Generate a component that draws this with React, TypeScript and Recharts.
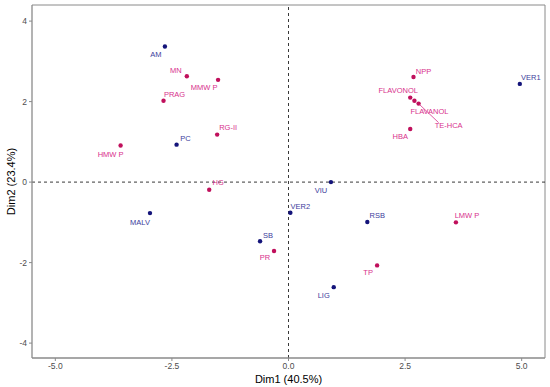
import React from "react";
import {
  ScatterChart,
  Scatter,
  XAxis,
  YAxis,
  ReferenceLine,
  LabelList,
} from "recharts";

// Observations (blue)
const obsNames = ["AM", "PC", "MALV", "SB", "VIU", "VER2", "RSB", "LIG", "VER1"];
const obsDim1 = [-2.65, -2.4, -2.97, -0.61, 0.91, 0.04, 1.69, 0.97, 4.96];
const obsDim2 = [3.37, 0.93, -0.77, -1.47, 0.0, -0.76, -0.99, -2.61, 2.44];

// Variables (magenta)
const varNames = [
  "MN", "MMW P", "PRAG", "RG-II", "HMW P", "HG", "PR",
  "NPP", "FLAVONOL", "FLAVANOL", "TE-HCA", "HBA", "LMW P", "TP",
];
const varDim1 = [-2.18, -1.51, -2.68, -1.53, -3.6, -1.7, -0.31, 2.68, 2.61, 2.7, 2.79, 2.61, 3.59, 1.9];
const varDim2 = [2.63, 2.54, 2.02, 1.18, 0.91, -0.19, -1.71, 2.61, 2.1, 2.02, 1.95, 1.32, -1.0, -2.07];

const xTicks = [-5, -2.5, 0, 2.5, 5];
const yTicks = [-4, -2, 0, 2, 4];

// label nudges (px) for repelled labels: [dx, dy, drawSegment]
const labelNudge: Record<string, [number, number, boolean?]> = {
  AM: [-9, 8],
  PC: [9, -6],
  MALV: [-10, 9],
  SB: [8, -6],
  VIU: [-10, 8],
  VER2: [10, -6],
  RSB: [10, -6],
  LIG: [-10, 8],
  VER1: [11, -6],
  MN: [-11, -6],
  "MMW P": [-14, 8],
  PRAG: [11, -6],
  "RG-II": [11, -7],
  "HMW P": [-10, 9],
  HG: [9, -7],
  PR: [-9, 7],
  NPP: [10, -6],
  FLAVONOL: [-12, -7],
  FLAVANOL: [15, 11],
  "TE-HCA": [30, 22, true],
  HBA: [-10, 8],
  "LMW P": [11, -7],
  TP: [-9, 7],
};

const obsData = obsNames.map((n, i) => ({ name: n, x: obsDim1[i], y: obsDim2[i] }));
const varData = varNames.map((n, i) => ({ name: n, x: varDim1[i], y: varDim2[i] }));

const BLUE_PT = "#14147a";
const BLUE_LB = "#3c3c9c";
const PINK_PT = "#c0105c";
const PINK_LB = "#d8308c";
const FONT = "'Liberation Sans', Arial, sans-serif";

const makeLabel = (color: string) => (props: any) => {
  const { x, y, width, height, value } = props;
  const cx = x + (width || 0) / 2;
  const cy = y + (height || 0) / 2;
  const nudge = labelNudge[value] || [8, -6];
  const lx = cx + nudge[0];
  const ly = cy + nudge[1];
  return (
    <g>
      {nudge[2] ? (
        <line x1={cx + 1} y1={cy + 1} x2={lx - 10} y2={ly - 3} stroke={color} strokeWidth={0.8} />
      ) : null}
      <text
        x={lx}
        y={ly}
        textAnchor="middle"
        dominantBaseline="central"
        fontSize={7.5}
        fontFamily={FONT}
        fill={color}
      >
        {value}
      </text>
    </g>
  );
};

const dot = (color: string) => (props: any) => (
  <circle cx={props.cx} cy={props.cy} r={2.2} fill={color} />
);

const YTitle = (props: any) => {
  const { viewBox } = props;
  const cy = viewBox.y + viewBox.height / 2;
  return (
    <text
      x={11}
      y={cy}
      transform={`rotate(-90, 11, ${cy})`}
      textAnchor="middle"
      dominantBaseline="central"
      fontSize={11}
      fontFamily={FONT}
      fill="#000"
    >
      Dim2 (23.4%)
    </text>
  );
};

const XTitle = (props: any) => {
  const { viewBox } = props;
  const cx = viewBox.x + viewBox.width / 2;
  return (
    <text x={cx} y={383} textAnchor="middle" fontSize={11} fontFamily={FONT} fill="#000">
      Dim1 (40.5%)
    </text>
  );
};

export default function App() {
  return (
    <div style={{ position: "absolute", left: 0, top: 0, background: "#fff" }}>
      <ScatterChart
        width={550}
        height={387}
        margin={{ top: 5, right: 5, bottom: 0, left: 0 }}
      >
        <XAxis
          type="number"
          dataKey="x"
          domain={[-5.5, 5.5]}
          ticks={xTicks}
          allowDataOverflow
          height={29}
          tickSize={3}
          tickFormatter={(v: number) => v.toFixed(1)}
          tick={{ fontSize: 8.5, fill: "#4d4d4d", fontFamily: FONT }}
          axisLine={{ stroke: "#8a8a8a", strokeWidth: 1.3 }}
          tickLine={{ stroke: "#8a8a8a" }}
          label={<XTitle />}
        />
        <YAxis
          type="number"
          dataKey="y"
          domain={[-4.37, 4.4]}
          ticks={yTicks}
          allowDataOverflow
          width={32}
          tickSize={3}
          tick={{ fontSize: 8.5, fill: "#4d4d4d", fontFamily: FONT }}
          axisLine={{ stroke: "#8a8a8a", strokeWidth: 1.3 }}
          tickLine={{ stroke: "#8a8a8a" }}
          label={<YTitle />}
        />
        <ReferenceLine y={4.4} stroke="#8a8a8a" strokeWidth={1} />
        <ReferenceLine x={5.5} stroke="#8a8a8a" strokeWidth={1} />
        <ReferenceLine x={0} stroke="#222" strokeDasharray="3 3" strokeWidth={0.9} />
        <ReferenceLine y={0} stroke="#222" strokeDasharray="3 3" strokeWidth={0.9} />
        <Scatter data={varData} shape={dot(PINK_PT)} isAnimationActive={false}>
          <LabelList dataKey="name" content={makeLabel(PINK_LB)} />
        </Scatter>
        <Scatter data={obsData} shape={dot(BLUE_PT)} isAnimationActive={false}>
          <LabelList dataKey="name" content={makeLabel(BLUE_LB)} />
        </Scatter>
      </ScatterChart>
    </div>
  );
}
